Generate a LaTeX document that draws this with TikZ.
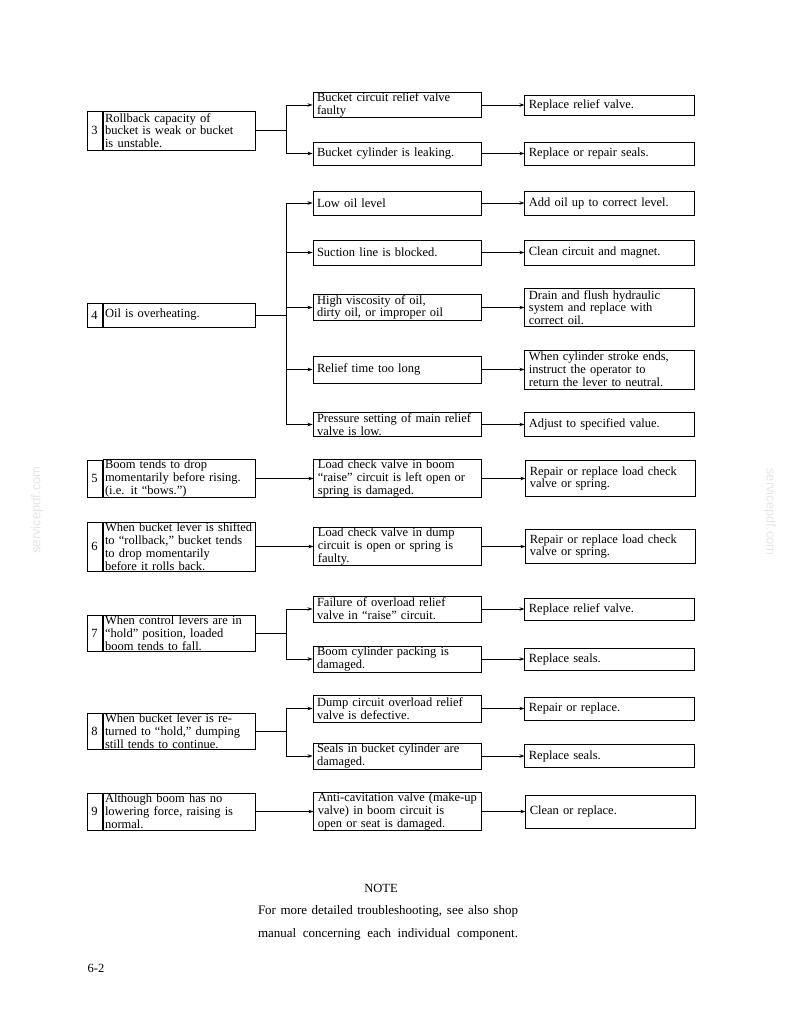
\documentclass[tikz,border=0pt]{standalone}
\usepackage{fontspec}
\setmainfont{Liberation Serif}
\newfontfamily\wmfont{Liberation Sans}
\usetikzlibrary{arrows.meta,positioning}
\hyphenpenalty=10000
\exhyphenpenalty=10000

\begin{document}
\begin{tikzpicture}[
  x=1pt, y=-1pt,
  font=\fontsize{12.5}{12.8}\selectfont,
  box/.style={rectangle, draw, line width=0.9pt, inner xsep=4pt, inner ysep=0.5pt, align=left},
  prob/.style={box, text width=148pt, inner xsep=2pt, minimum height=#1},
  numcell/.style={rectangle, draw, line width=0.9pt, inner sep=0pt, minimum width=15pt, minimum height=#1},
  cause/.style={box, text width=160pt, minimum height=#1},
  fix/.style={box, text width=162pt, minimum height=#1},
  arr/.style={-{Stealth[length=5pt,width=3.5pt]}, line width=0.8pt},
  link/.style={line width=0.9pt},
  wm/.style={text=black!10, font=\wmfont\fontsize{13}{13}\selectfont}
]
  \useasboundingbox (0,0) rectangle (794,1028);

  \node[prob=39] (p3) at (179,130.5) {Rollback capacity of\\bucket is weak or bucket\\is unstable.};
  \node[numcell=39, left=0pt of p3] (n3) {3};
  \node[cause=25] (c3a) at (397,105) {Bucket circuit relief valve\\faulty};
  \node[fix=20, right=43pt of c3a] (r3a) {Replace relief valve.};
  \node[cause=23] (c3b) at (397,153.5) {Bucket cylinder is leaking.};
  \node[fix=23, right=43pt of c3b] (r3b) {Replace or repair seals.};
  \draw[link] (p3.east) -- ++(31,0) coordinate (b3);
  \draw[arr] (b3) |- (c3a.west);
  \draw[arr] (b3) |- (c3b.west);
  \draw[arr] (c3a) -- (r3a);
  \draw[arr] (c3b) -- (r3b);

  \node[prob=24] (p4) at (179,315) {Oil is overheating.};
  \node[numcell=24, left=0pt of p4] (n4) {4};
  \node[cause=24] (c4a) at (397,203) {Low oil level};
  \node[fix=24, right=43pt of c4a] (r4a) {Add oil up to correct level.};
  \node[cause=25] (c4b) at (397,252.5) {Suction line is blocked.};
  \node[fix=25, right=43pt of c4b] (r4b) {Clean circuit and magnet.};
  \node[cause=26] (c4c) at (397,307.5) {High viscosity of oil,\\dirty oil, or improper oil};
  \node[fix=38, right=43pt of c4c] (r4c) {Drain and flush hydraulic\\system and replace with\\correct oil.};
  \node[cause=27] (c4d) at (397,369.5) {Relief time too long};
  \node[fix=39, right=43pt of c4d] (r4d) {When cylinder stroke ends,\\instruct the operator to\\return the lever to neutral.};
  \node[cause=24] (c4e) at (397,424.5) {Pressure setting of main relief\\valve is low.};
  \node[fix=24, right=43pt of c4e] (r4e) {Adjust to specified value.};
  \draw[link] (p4.east) -- ++(31,0) coordinate (b4);
  \draw[arr] (b4) |- (c4a.west);
  \draw[arr] (b4) |- (c4b.west);
  \draw[arr] (b4) |- (c4c.west);
  \draw[arr] (b4) |- (c4d.west);
  \draw[arr] (b4) |- (c4e.west);
  \draw[arr] (c4a) -- (r4a);
  \draw[arr] (c4b) -- (r4b);
  \draw[arr] (c4c) -- (r4c);
  \draw[arr] (c4d) -- (r4d);
  \draw[arr] (c4e) -- (r4e);

  \node[prob=37] (p5) at (179,478.5) {Boom tends to drop\\momentarily before rising.\\(i.e. it “bows.”)};
  \node[numcell=37, left=0pt of p5] (n5) {5};
  \node[cause=36, right=58pt of p5] (c5) {Load check valve in boom\\“raise” circuit is left open or\\spring is damaged.};
  \node[fix=36, right=43pt of c5] (r5) {Repair or replace load check\\valve or spring.};
  \draw[arr] (p5) -- (c5);
  \draw[arr] (c5) -- (r5);

  \node[prob=49] (p6) at (179,546.5) {\mbox{When bucket lever is shifted}\\to “rollback,” bucket tends\\to drop momentarily\\before it rolls back.};
  \node[numcell=49, left=0pt of p6] (n6) {6};
  \node[cause=35, right=58pt of p6] (c6) {Load check valve in dump\\circuit is open or spring is\\faulty.};
  \node[fix=34, right=43pt of c6] (r6) {Repair or replace load check\\valve or spring.};
  \draw[arr] (p6) -- (c6);
  \draw[arr] (c6) -- (r6);

  \node[prob=36] (p7) at (179,633) {When control levers are in\\“hold” position, loaded\\boom tends to fall.};
  \node[numcell=36, left=0pt of p7] (n7) {7};
  \node[cause=26] (c7a) at (397,609) {Failure of overload relief\\valve in “raise” circuit.};
  \node[fix=22, right=43pt of c7a] (r7a) {Replace relief valve.};
  \node[cause=26] (c7b) at (397,659) {Boom cylinder packing is\\damaged.};
  \node[fix=22, right=43pt of c7b] (r7b) {Replace seals.};
  \draw[link] (p7.east) -- ++(31,0) coordinate (b7);
  \draw[arr] (b7) |- (c7a.west);
  \draw[arr] (b7) |- (c7b.west);
  \draw[arr] (c7a) -- (r7a);
  \draw[arr] (c7b) -- (r7b);

  \node[prob=36] (p8) at (179,731) {When bucket lever is re-\\turned to “hold,” dumping\\still tends to continue.};
  \node[numcell=36, left=0pt of p8] (n8) {8};
  \node[cause=27] (c8a) at (397,708.5) {Dump circuit overload relief\\valve is defective.};
  \node[fix=23, right=43pt of c8a] (r8a) {Repair or replace.};
  \node[cause=26] (c8b) at (397,756) {Seals in bucket cylinder are\\damaged.};
  \node[fix=23, right=43pt of c8b] (r8b) {Replace seals.};
  \draw[link] (p8.east) -- ++(31,0) coordinate (b8);
  \draw[arr] (b8) |- (c8a.west);
  \draw[arr] (b8) |- (c8b.west);
  \draw[arr] (c8a) -- (r8a);
  \draw[arr] (c8b) -- (r8b);

  \node[prob=37] (p9) at (179,811.5) {Although boom has no\\lowering force, raising is\\normal.};
  \node[numcell=37, left=0pt of p9] (n9) {9};
  \node[cause=38, right=58pt of p9] (c9) {Anti-cavitation valve (make-up\\valve) in boom circuit is\\open or seat is damaged.};
  \node[fix=33, right=43pt of c9] (r9) {Clean or replace.};
  \draw[arr] (p9) -- (c9);
  \draw[arr] (c9) -- (r9);

  \node[font=\fontsize{12.5}{12.5}\selectfont] (note) at (381,888) {NOTE};
  \node[align=center, font=\fontsize{13}{23}\selectfont] (notetxt) at (388,922.5)
    {\makebox[260pt][s]{For more detailed troubleshooting, see also shop}\\
     \makebox[260pt][s]{manual concerning each individual component.}};
  \node[font=\fontsize{12.5}{12.5}\selectfont] (page) at (96,968) {6-2};

  \node[wm, rotate=90] (wml) at (37,510) {servicepdf.com};
  \node[wm, rotate=-90] (wmr) at (770,512) {servicepdf.com};
\end{tikzpicture}
\end{document}
